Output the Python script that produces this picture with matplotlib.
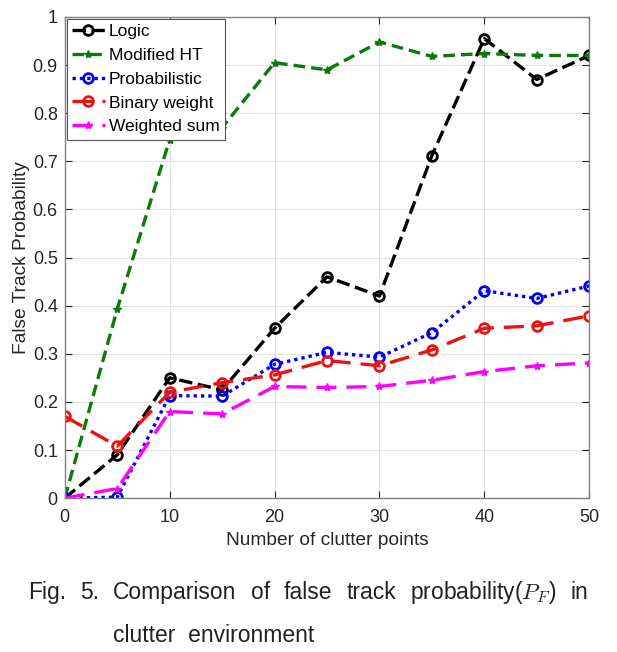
import matplotlib.pyplot as plt

plt.rcParams['font.family'] = ['Liberation Sans', 'DejaVu Sans']
plt.rcParams['mathtext.fontset'] = 'cm'

# clutter points on x axis
clutter = [0, 5, 10, 15, 20, 25, 30, 35, 40, 45, 50]

# false track probability for each method
logic = [0.0, 0.09, 0.25, 0.225, 0.353, 0.46, 0.42, 0.712, 0.955, 0.87, 0.92]
modified_ht = [0.0, 0.393, 0.745, 0.77, 0.905, 0.89, 0.948, 0.918, 0.924, 0.92, 0.92]
probabilistic = [0.0, 0.002, 0.213, 0.212, 0.278, 0.303, 0.293, 0.344, 0.431, 0.415, 0.441]
binary_weight = [0.17, 0.108, 0.22, 0.24, 0.256, 0.286, 0.275, 0.308, 0.353, 0.358, 0.379]
weighted_sum = [0.0, 0.02, 0.18, 0.175, 0.232, 0.23, 0.232, 0.245, 0.263, 0.275, 0.281]

xticks = [0, 10, 20, 30, 40, 50]
yticks = [0, 0.1, 0.2, 0.3, 0.4, 0.5, 0.6, 0.7, 0.8, 0.9, 1]
ytick_labels = ['0', '0.1', '0.2', '0.3', '0.4', '0.5', '0.6', '0.7', '0.8', '0.9', '1']

caption1 = ['Fig.', '5.', 'Comparison', 'of', 'false', 'track', r'probability($P_F$)', 'in']
caption2 = 'clutter  environment'

fig = plt.figure(figsize=(6.17, 6.52), dpi=100)
ax = fig.add_axes([0.105, 0.236, 0.850, 0.738])

lw = 2.4
ax.plot(clutter, logic, color='black', lw=lw, dashes=(4, 1.7), marker='o',
        ms=7, mfc='none', mew=2, label='Logic')
ax.plot(clutter, modified_ht, color='#0a7a0a', lw=lw, dashes=(3.5, 1.8), marker='*',
        ms=6, label='Modified HT')
ax.plot(clutter, probabilistic, color='#0000ee', lw=lw, linestyle=(0, (1, 1.2)), marker='o',
        ms=7, mfc='none', mew=2, label='Probabilistic')
ax.plot(clutter, binary_weight, color='#ee1111', lw=lw, dashes=(6, 3), marker='o',
        ms=7, mfc='none', mew=2, label='Binary weight')
ax.plot(clutter, weighted_sum, color='#ff00ff', lw=lw, dashes=(6, 3), marker='*',
        ms=6, label='Weighted sum')

ax.set_xlim(0, 50)
ax.set_ylim(0, 1)
ax.set_xticks(xticks)
ax.set_yticks(yticks)
ax.set_yticklabels(ytick_labels)
ax.grid(True, color='#e3e3e3', lw=0.8)
ax.set_axisbelow(True)
ax.tick_params(direction='in', top=True, right=True, labelsize=13, colors='#262626',
               length=5, width=0.8)
ax.tick_params(axis='x', pad=8)
ax.tick_params(axis='y', pad=5)
for s in ax.spines.values():
    s.set_color('#808080')
    s.set_linewidth(1)

ax.set_xlabel('Number of clutter points', fontsize=13.8, color='#262626', labelpad=4)
ax.set_ylabel('False Track Probability', fontsize=13.8, color='#262626', labelpad=2)

leg = ax.legend(loc='upper left', fontsize=12.5, borderaxespad=0.1, handlelength=1.9,
                handletextpad=0.25, labelspacing=0.5, borderpad=0.3, fancybox=False,
                framealpha=1)
leg.get_frame().set_edgecolor('#555555')
leg.get_frame().set_linewidth(0.8)

# caption, first line justified between two edges
W = 617.0
x0, x1 = 28 / W, 588 / W
words = [fig.text(x0, 0.092, w, fontsize=16.5, color='#222222', va='center') for w in caption1]
fig.canvas.draw()
r = fig.canvas.get_renderer()
widths = [t.get_window_extent(r).width / W for t in words]
gap = (x1 - x0 - sum(widths)) / (len(words) - 1)
xpos = x0
for t, wd in zip(words, widths):
    t.set_x(xpos)
    xpos += wd + gap
fig.text(words[2].get_position()[0], 0.026, caption2, fontsize=16.5, color='#222222',
         va='center')

fig.savefig('out.png', dpi=100)
